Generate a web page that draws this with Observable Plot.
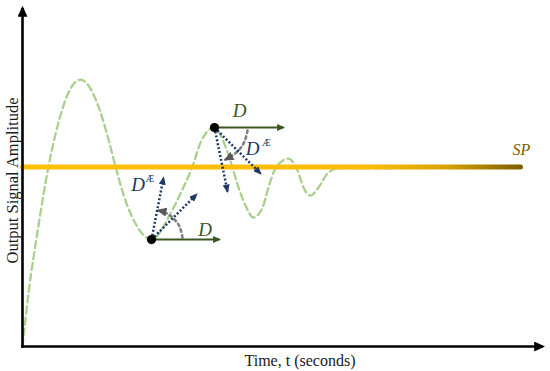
<!DOCTYPE html>
<html><head><meta charset="utf-8">
<script src="https://cdn.jsdelivr.net/npm/d3@7"></script>
<script src="https://cdn.jsdelivr.net/npm/@observablehq/plot@0.6"></script>
<style>body{margin:0;background:#fff}</style>
</head><body><div id="chart"></div>
<script>
// Damped output response
const time = [0, 0.12, 0.32, 0.52, 0.72, 0.92, 1.16, 1.32, 1.52, 1.72, 1.86, 2.06, 2.26, 2.58, 2.96, 3.16, 3.40, 3.56, 3.84, 3.92, 4.06, 4.20, 4.32, 4.46, 4.62, 4.80, 4.92, 5.06, 5.32, 5.50, 5.62, 5.76, 5.92, 6.10, 6.30, 6.76, 7.40];
const amplitude = [0, 0.295, 0.674, 1.003, 1.248, 1.415, 1.487, 1.454, 1.337, 1.153, 1.003, 0.813, 0.685, 0.596, 0.741, 0.852, 1.003, 1.136, 1.220, 1.198, 1.114, 0.997, 0.886, 0.786, 0.719, 0.774, 0.886, 0.992, 1.047, 0.981, 0.886, 0.841, 0.886, 0.964, 0.992, 0.992, 0.992];
// Set point
const setPoint = 1.0;
const setPointEnd = 9.96;
const spLabel = "SP";
// Axis extent
const axisEndT = 10.41;
const axisEndA = 1.886;
const xLabel = "Time, t (seconds)";
const yLabel = "Output Signal Amplitude";
// Two highlighted points (trough and peak)
const pointT = [2.58, 3.84];
const pointA = [0.596, 1.220];
// Horizontal "D" arrows
const dEndT = [3.94, 5.22];
// Dotted "D^Æ" arrows
const daFrom = [0, 0, 1, 1];
const daEndT = [2.82, 3.48, 4.10, 4.76];
const daEndA = [0.940, 0.847, 0.864, 0.964];
// Grey angle arcs
const arcLowT = [3.20, 3.14, 3.02, 2.86, 2.72];
const arcLowA = [0.607, 0.669, 0.713, 0.746, 0.758];
const arcHighT = [4.50, 4.44, 4.32, 4.16, 4.06];
const arcHighA = [1.203, 1.142, 1.092, 1.058, 1.042];
// Labels
const dLabelT = [3.65, 4.34];
const dLabelA = [0.649, 1.315];
const daLabelT = [2.31, 4.60];
const daLabelA = [0.902, 1.100];
const aeLabelT = [2.55, 4.88];
const aeLabelA = [0.935, 1.135];

const curve = time.map((t, i) => ({t, a: amplitude[i]}));
const sp = [{t: 0, a: setPoint}, {t: setPointEnd, a: setPoint}];
const pts = pointT.map((t, i) => ({t, a: pointA[i]}));
const dArrows = pointT.map((t, i) => ({x1: t, y1: pointA[i], x2: dEndT[i], y2: pointA[i]}));
const daArrows = daFrom.map((k, i) => ({x1: pointT[k], y1: pointA[k], x2: daEndT[i], y2: daEndA[i]}));
const arcs = [
  ...arcLowT.map((t, i) => ({t, a: arcLowA[i], g: "low"})),
  ...arcHighT.map((t, i) => ({t, a: arcHighA[i], g: "high"}))
];
const axes = [{x1: -0.03, y1: 0, x2: axisEndT, y2: 0}, {x1: 0, y1: -0.006, x2: 0, y2: axisEndA}];
const serif = "Liberation Serif, DejaVu Serif, serif";

const chart = Plot.plot({
  width: 550, height: 371,
  marginLeft: 22, marginRight: 3, marginTop: 5, marginBottom: 25,
  x: {domain: [0, 10.5], axis: null},
  y: {domain: [0, 1.9], axis: null},
  style: {background: "white", overflow: "visible"},
  marks: [
    Plot.line(curve, {x: "t", y: "a", curve: "monotone-x", stroke: "#A9D18E", strokeWidth: 2.3, strokeDasharray: "7,4"}),
    Plot.line(sp, {x: "t", y: "a", stroke: "#FFC000", strokeWidth: 5, strokeLinecap: "round", ariaDescription: "sp"}),
    Plot.link(axes, {x1: "x1", y1: "y1", x2: "x2", y2: "y2", stroke: "black", strokeWidth: 2.6, ariaDescription: "axis"}),
    Plot.line(arcs, {x: "t", y: "a", z: "g", curve: "catmull-rom", stroke: "#7F7F7F", strokeWidth: 2.6, strokeDasharray: "2.5,3.5", ariaDescription: "arc"}),
    Plot.link(daArrows, {x1: "x1", y1: "y1", x2: "x2", y2: "y2", stroke: "#203864", strokeWidth: 2.5, strokeDasharray: "2,2", ariaDescription: "da"}),
    Plot.link(dArrows, {x1: "x1", y1: "y1", x2: "x2", y2: "y2", stroke: "#385723", strokeWidth: 2, ariaDescription: "d"}),
    Plot.dot(pts, {x: "t", y: "a", r: 4.6, fill: "black"}),
    Plot.text(dLabelT, {x: d => d, y: (d, i) => dLabelA[i], text: () => "D", fontSize: 19, fontStyle: "italic", fontFamily: serif, fill: "#385723"}),
    Plot.text(daLabelT, {x: d => d, y: (d, i) => daLabelA[i], text: () => "D", fontSize: 19, fontStyle: "italic", fontFamily: serif, fill: "#203864"}),
    Plot.text(aeLabelT, {x: d => d, y: (d, i) => aeLabelA[i], text: () => "Æ", fontSize: 10, fontFamily: serif, fill: "#203864"}),
    Plot.text([spLabel], {x: 9.98, y: 1.097, text: d => d, fontSize: 16, fontStyle: "italic", fontFamily: serif, fill: "#7F6000"}),
    Plot.text([xLabel], {x: 5.55, y: -0.078, text: d => d, fontSize: 16, fontFamily: serif, fill: "#1a1a1a"}),
    Plot.text([yLabel], {x: -0.2, y: 0.925, text: d => d, rotate: -90, fontSize: 16.5, fontFamily: serif, fill: "#1a1a1a"})
  ]
});

const ns = "http://www.w3.org/2000/svg";
const defs = document.createElementNS(ns, "defs");
chart.insertBefore(defs, chart.firstChild);
function addMarker(id, color, len, wid) {
  const m = document.createElementNS(ns, "marker");
  m.setAttribute("id", id);
  m.setAttribute("markerUnits", "userSpaceOnUse");
  m.setAttribute("viewBox", `0 0 ${len} ${wid}`);
  m.setAttribute("markerWidth", len);
  m.setAttribute("markerHeight", wid);
  m.setAttribute("refX", len * 0.8);
  m.setAttribute("refY", wid / 2);
  m.setAttribute("orient", "auto");
  const p = document.createElementNS(ns, "path");
  p.setAttribute("d", `M0,0L${len},${wid / 2}L0,${wid}Z`);
  p.setAttribute("fill", color);
  p.setAttribute("stroke", "none");
  m.appendChild(p);
  defs.appendChild(m);
}
addMarker("m-axis", "black", 11, 10);
addMarker("m-d", "#385723", 8, 7);
addMarker("m-da", "#203864", 8.5, 7);
addMarker("m-arc", "#595959", 10, 9);
function tag(name, marker) {
  chart.querySelectorAll(`g[aria-description="${name}"] path, g[aria-description="${name}"] line`).forEach(p => p.setAttribute("marker-end", `url(#${marker})`));
}
tag("axis", "m-axis"); tag("d", "m-d"); tag("da", "m-da"); tag("arc", "m-arc");

// gradient on the set point line
const sx = chart.scale("x");
const g = document.createElementNS(ns, "linearGradient");
g.setAttribute("id", "spgrad");
g.setAttribute("gradientUnits", "userSpaceOnUse");
g.setAttribute("x1", sx.apply(0)); g.setAttribute("x2", sx.apply(setPointEnd));
g.setAttribute("y1", 0); g.setAttribute("y2", 0);
[[0, "#FFC000"], [0.7, "#FBBC00"], [0.85, "#D9A300"], [1, "#7F6000"]].forEach(([o, c]) => {
  const s = document.createElementNS(ns, "stop");
  s.setAttribute("offset", o); s.setAttribute("stop-color", c);
  g.appendChild(s);
});
defs.appendChild(g);
chart.querySelectorAll('g[aria-description="sp"] path').forEach(p => p.setAttribute("stroke", "url(#spgrad)"));

document.getElementById("chart").appendChild(chart);
</script>
</body></html>
